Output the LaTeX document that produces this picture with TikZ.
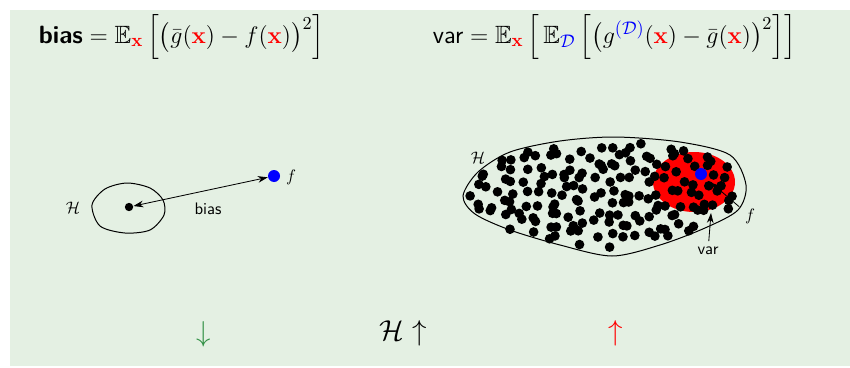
\documentclass[tikz,border=0pt]{standalone}
\usepackage{amsmath,amssymb}
\usetikzlibrary{arrows.meta}

\definecolor{bggreen}{RGB}{228,240,227}
\definecolor{arrgreen}{RGB}{50,145,70}
\newcommand{\bx}{{\color{red}\mathbf{x}}}
\newcommand{\dset}{{\color{blue}\mathcal{D}}}

\begin{document}
\begin{tikzpicture}[x=0.6pt, y=-0.6pt,
    dot/.style={circle, fill=black, inner sep=0pt, minimum size=5pt},
    fdot/.style={circle, fill=blue, inner sep=0pt, minimum size=7.2pt},
    lbl/.style={font=\sffamily},
    eqn/.style={anchor=west, font=\fontsize{15}{18}\selectfont},
    pointer/.style={-{Stealth[length=6pt,width=4pt]}, line width=0.5pt}]

        \useasboundingbox (0,0) rectangle (850,367);
        \fill[bggreen] (10,10) rectangle (850,366);

        % the two formulas
        \node[eqn] (biaseq) at (33,37)
            {$\textsf{\textbf{bias}} = \mathbb{E}_{\bx}\,\Bigl[\bigl(\bar g(\bx) - f(\bx)\bigr)^2\Bigr]$};
        \node[eqn] (vareq) at (427,37)
            {$\textsf{var} = \mathbb{E}_{\bx}\,\Bigl[\,\mathbb{E}_{\dset}\,\Bigl[\bigl(g^{\color{blue}(\mathcal{D})}(\bx) - \bar g(\bx)\bigr)^2\Bigr]\Bigr]$};

        % small hypothesis set
        \draw[line width=0.6pt] plot[smooth cycle] coordinates
            {(92,205) (105,189) (127,183) (150,188) (163,200) (164,215) (150,230) (125,233) (100,226)};
        \node[dot] (gbar) at (129,207) {};
        \node[fdot] (ftrue) at (274,176) {};
        \node (hsmall) at (73,208) {$\mathcal{H}$};
        \node (fsmall) at (291,177) {$f$};
        \node[lbl] (biaslab) at (208,209) {bias};
        \draw[{Stealth[length=6pt,width=4pt]}-{Stealth[length=6pt,width=4pt]}, line width=0.5pt] (gbar) -- (ftrue);

        % large hypothesis set
        \fill[red] (694,182) ellipse [x radius=24.6pt, y radius=18pt];
        \pgfmathsetseed{4711}
        \foreach \gx in {0,...,22}{
            \foreach \gy in {0,...,9}{
                \pgfmathsetmacro\px{470+12*\gx+12*rnd}
                \pgfmathsetmacro\py{142+11*\gy+11*rnd}
                \pgfmathsetmacro\u{(\px-604)/136}
                \pgfmathtruncatemacro\ok{((\u)^2+((\py-196+9*max(\u,0)-4*min(\u,0))/52)^2)<1}
                \ifnum\ok=1 \fill (\px,\py) circle (2.9pt);\fi
            }
        }
        \draw[line width=0.6pt] plot[smooth cycle] coordinates
            {(463,196) (478,172) (510,152) (560,141) (615,137) (680,142) (730,155) (746,185)
             (738,210) (705,228) (660,245) (612,256) (560,245) (510,230) (475,214)};
        \node[fdot] (fbig) at (701,174) {};
        \node (hbig) at (478,158) {$\mathcal{H}$};
        \node (fbiglab) at (750,216) {$f$};
        \node[lbl] (varlab) at (708,251) {var};
        \coordinate (vartip) at (711,213);
        \draw[pointer, shorten >=4pt] (fbiglab) -- (fbig);
        \draw[pointer] (varlab) -- (vartip);

        % trend arrows
        \node[text=arrgreen, font=\LARGE] (down) at (204,334) {$\downarrow$};
        \node[font=\LARGE] (hup) at (403,333) {$\mathcal{H}\uparrow$};
        \node[text=red, font=\LARGE] (up) at (616,333) {$\uparrow$};

\end{tikzpicture}
\end{document}
